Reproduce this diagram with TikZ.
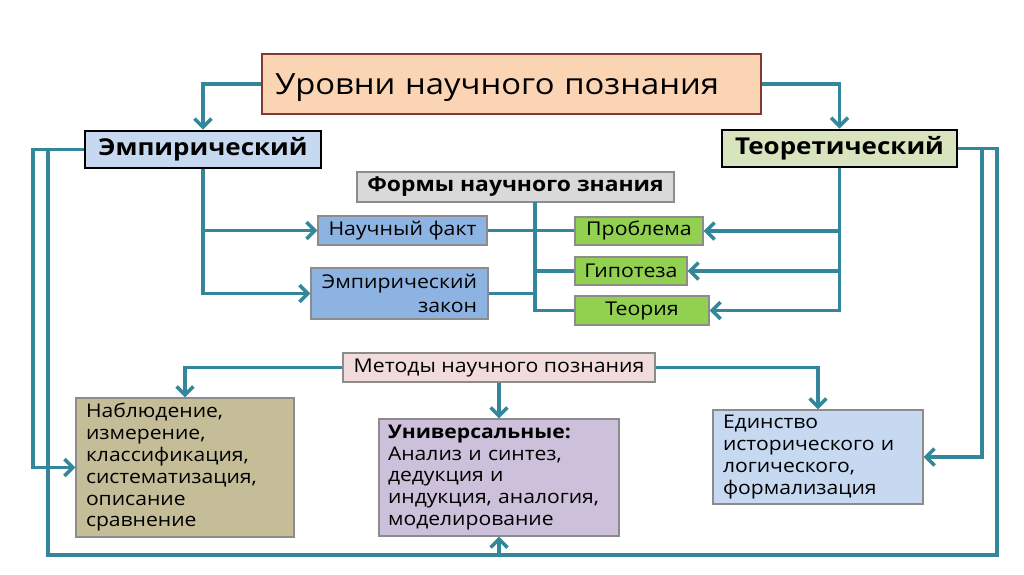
\documentclass[tikz,border=0pt]{standalone}
\usepackage{fontspec}
\setmainfont{Open Sans}[FakeStretch=1.12]
\usetikzlibrary{arrows.meta, positioning, calc}

\begin{document}
\begin{tikzpicture}[x=0.025cm, y=-0.025cm,
    every node/.style={font=\rmfamily},
]

% ---------------------------------------------------------------- colours
\definecolor{lc}{HTML}{34879A}     % connectors
\definecolor{c1}{HTML}{FBD4B4}     % title
\definecolor{c1b}{HTML}{7F3A32}
\definecolor{c2}{HTML}{C6D9F1}     % empirical level, unity box
\definecolor{c3}{HTML}{D7E4BD}     % theoretical level
\definecolor{c4}{HTML}{D9D9D9}     % forms header
\definecolor{c5}{HTML}{8DB3E2}     % empirical forms
\definecolor{c6}{HTML}{92D050}     % theoretical forms
\definecolor{c7}{HTML}{F2DCDB}     % methods header
\definecolor{c8}{HTML}{C4BD97}     % empirical methods
\definecolor{c9}{HTML}{CCC0DA}     % universal methods
\definecolor{boxline}{HTML}{8C8C8C}

\tikzset{
    wh/.style 2 args={minimum width=#1*0.025cm, minimum height=#2*0.025cm},
    level/.style={rectangle, draw=black, line width=2pt, inner sep=0pt,
                  font=\fontsize{16.5}{19}\selectfont\bfseries},
    form/.style={rectangle, draw=boxline, line width=0.9pt, inner sep=0pt,
                 font=\fontsize{13.5}{17}\selectfont},
    method/.style={rectangle, draw=boxline, line width=0.9pt, inner sep=0pt,
                   font=\fontsize{13.4}{15.5}\selectfont, align=left},
    link/.style={draw=lc, line width=2.5pt},
    arr/.style={link, -{Straight Barb[length=6pt, width=12pt]}},
}

% ================================================================
% GEOMETRY (1 unit = 1 px of the 1024 x 574 slide, y downwards)
%   title            y = 84
%   levels           y = 149
%   forms            y = 187 .. 325,  trunk x = 535
%   methods header   y = 368
%   method boxes     y = 398 .. 537
%   outer loop       x = 33 / 48 (left), 982 / 997 (right), y = 555
% ================================================================

\fill[white] (0,0) rectangle (1024,574);
\useasboundingbox (0,0) rectangle (1024,574);

% ---------------------------------------------------------------- levels
\node[rectangle, draw=c1b, line width=2pt, fill=c1, wh={499}{60},
      inner sep=0pt, text width=473*0.025cm, align=left,
      text height=14.9pt, text depth=0pt,
      font=\fontsize{20.8}{24}\selectfont] (title) at (511.5, 84)
    {Уровни научного познания};
\node[level, fill=c2, wh={236}{37}] (emp) at (203, 149.5) {Эмпирический};
\node[level, fill=c3, wh={235}{37}] (teor) at (839.5, 148.5) {Теоретический};

% ---------------------------------------------------------------- forms
\node[form, fill=c4, wh={317}{30}, font=\fontsize{14.5}{17}\selectfont\bfseries]
    (forms) at (515.5, 187) {Формы научного знания};
\node[form, fill=c5, wh={169}{29}] (fact) at (402.5, 230.5) {Научный факт};
\node[form, fill=c5, wh={177}{51}, align=right] (law) at (399.5, 293.5)
    {Эмпирический\\закон};
\node[form, fill=c6, wh={128}{28}] (problem) at (639, 231) {Проблема};
\node[form, fill=c6, wh={112}{28}] (hypo) at (631, 271) {Гипотеза};
\node[form, fill=c6, wh={134}{29}] (theory) at (642, 310.5) {Теория};

% ---------------------------------------------------------------- methods
\node[form, fill=c7, wh={312}{29}] (methods) at (499, 367.5)
    {Методы научного познания};
\node[method, fill=c8, wh={218}{139}, text width=198*0.025cm] (observ)
    at (185, 467.5)
    {Наблюдение,\\измерение,\\классификация,\\систематизация,\\описание\\сравнение};
\node[method, fill=c9, wh={240}{117}, text width=222*0.025cm] (univ)
    at (499, 477.5)
    {\textbf{Универсальные:}\\Анализ и синтез,\\дедукция и\\индукция, аналогия,\\моделирование};
\node[method, fill=c2, wh={210}{94}, text width=190*0.025cm] (unity)
    at (818, 457)
    {Единство\\исторического и\\логического,\\формализация};

% ---------------------------------------------------------------- helper points
\coordinate (trunk) at (535, 202);
\coordinate (lout) at (33, 0);
\coordinate (lin) at (48, 0);
\coordinate (rin) at (982, 0);
\coordinate (rout) at (997, 0);
\coordinate (bot) at (499, 555);

% ---------------------------------------------------------------- connectors
\draw[arr] (title.west) -| (emp.north);
\draw[arr] (title.east) -| (teor.north);

\draw[arr] (emp.south) |- (fact.west);
\draw[arr] (emp.south) |- (law.west);
\draw[arr] (teor.south) |- (problem.east);
\draw[arr] (teor.south) |- (hypo.east);
\draw[arr] (teor.south) |- (theory.east);

\draw[link] (trunk) |- (theory.west);
\draw[link] (fact.east) -- (fact.east -| problem.west);
\draw[link] (trunk |- hypo.west) -- (hypo.west);
\draw[link] (law.east) -- (law.east -| trunk);

\draw[arr] (methods.west) -| (observ.north);
\draw[arr] (methods.south) -- (univ.north);
\draw[arr] (methods.east) -| (unity.north);

\draw[arr] (emp.west) -- (emp.west -| lout) |- (observ.west);
\draw[arr] (teor.east) -- (teor.east -| rin) |- (unity.east);
\draw[link] (emp.west) -- (emp.west -| lin) |- (bot);
\draw[link] (teor.east) -- (teor.east -| rout) |- (bot);
\draw[arr] (bot) -- (univ.south);

\end{tikzpicture}
\end{document}
